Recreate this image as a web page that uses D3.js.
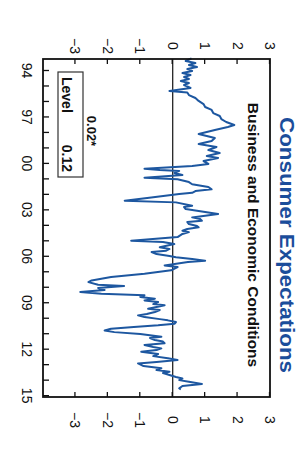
<!DOCTYPE html>
<html>
<head>
<meta charset="utf-8">
<script src="https://cdn.jsdelivr.net/npm/d3@7"></script>
<style>
  body { margin: 0; background: #fff; }
  text { font-family: "Liberation Sans", Arial, sans-serif; }
</style>
</head>
<body>
<div class="chart"></div>
<script>
// data (decimal year, index value)
var years = [
  1993.26, 1993.42, 1993.55, 1993.68, 1993.81, 1993.94, 1994.06, 1994.19, 1994.32, 1994.45,
  1994.58, 1994.71, 1994.84, 1994.97, 1995.16, 1995.36, 1995.45, 1995.62, 1995.81, 1996.0,
  1996.2, 1996.39, 1996.58, 1996.78, 1996.97, 1997.17, 1997.36, 1997.55, 1997.68, 1997.88,
  1998.13, 1998.39, 1998.59, 1998.78, 1998.97, 1999.17, 1999.36, 1999.56, 1999.68, 1999.88,
  2000.07, 2000.2, 2000.38, 2000.46, 2000.52, 2000.65, 2000.78, 2000.96, 2001.06, 2001.24,
  2001.38, 2001.56, 2001.71, 2001.82, 2001.93, 2002.01, 2002.22, 2002.44, 2002.55, 2002.77,
  2002.85, 2002.98, 2003.11, 2003.3, 2003.52, 2003.63, 2003.74, 2003.82, 2003.95, 2004.08,
  2004.16, 2004.27, 2004.38, 2004.47, 2004.59, 2004.79, 2005.03, 2005.11, 2005.24, 2005.45,
  2005.56, 2005.67, 2005.76, 2005.89, 2006.02, 2006.1, 2006.21, 2006.32, 2006.4, 2006.62,
  2006.73, 2006.94, 2007.16, 2007.37, 2007.59, 2007.7, 2007.87, 2007.95, 2008.08, 2008.21,
  2008.34, 2008.45, 2008.55, 2008.66, 2008.77, 2008.88, 2008.99, 2009.12, 2009.2, 2009.31,
  2009.42, 2009.5, 2009.63, 2009.76, 2009.85, 2009.96, 2010.09, 2010.17, 2010.28, 2010.39,
  2010.49, 2010.6, 2010.71, 2010.83, 2010.93, 2011.05, 2011.23, 2011.31, 2011.44, 2011.54,
  2011.65, 2011.76, 2011.89, 2011.98, 2012.09, 2012.2, 2012.35, 2012.48, 2012.62, 2012.73,
  2012.86, 2012.95, 2013.12, 2013.27, 2013.38, 2013.49, 2013.57, 2013.7, 2013.83, 2013.92,
  2014.03, 2014.14, 2014.28, 2014.41, 2014.56, 2014.64
];
var values = [
  0.58, 0.4, 0.7, 0.5, 0.75, 0.45, 0.6, 0.3, 0.55, 0.35,
  0.5, 0.25, 0.5, 0.35, 0.55, -0.1, 0.45, 0.5, 0.7, 0.8,
  0.95, 1.0, 1.2, 1.25, 1.45, 1.5, 1.65, 1.9, 1.7, 1.3,
  0.8, 1.3, 1.2, 0.8, 1.35, 1.1, 1.45, 1.05, 1.4, 0.95,
  1.1, 0.6, -0.87, -0.4, 0.2, 0.05, 0.3, -0.87, 0.15, 0.5,
  0.6, 1.1, 1.2, 0.7, 0.6, 0.2, -0.6, -1.48, 0.1, 0.6,
  0.35, 0.4, 0.8, 1.4, 0.6, 0.85, 0.9, 0.45, 0.5, 0.75,
  0.8, 0.45, 0.3, 0.5, 0.3, 0.15, -1.28, -0.3, 0.05, -0.4,
  -0.1, -0.2, -0.65, -0.5, -0.1, 0.1, 0.6, 1.0, 0.47, -0.25,
  0.15, -0.05, -0.87, -1.9, -2.5, -2.6, -2.3, -1.5, -2.3, -2.1,
  -2.85, -2.2, -0.87, -1.0, -0.55, -0.87, -0.45, -0.6, -0.25, -0.5,
  -0.76, -0.4, -0.55, -0.8, -1.07, -0.87, -0.4, -0.15, 0.1, 0.06,
  -0.45, -1.2, -1.9, -2.1, -1.8, -1.0, -0.35, -0.7, -0.55, -0.3,
  -0.25, -0.87, -0.6, -0.35, -0.5, -0.97, -0.45, -0.6, -0.15, 0.15,
  -0.5, -1.07, -0.9, -0.35, -0.5, -0.1, -0.3, -0.1, 0.1, 0.3,
  0.2, 0.5, 0.9, 0.3, 0.2, 0.25
];
var yearTicks = d3.range(1994, 2016);
var yearLabels = { 1994: "94", 1997: "97", 2000: "00", 2003: "03", 2006: "06", 2009: "09", 2012: "12", 2015: "15" };
var valueTicks = [-3, -2, -1, 0, 1, 2, 3];

var title = "Consumer Expectations";
var subtitle = "Business and Economic Conditions";
var legendName = "Level";
var legendValue = "0.12";
var legendNote = "0.02*";

function drawChart() {
  // the chart is laid out as a normal landscape chart, then turned a quarter clockwise
  var svg = d3
    .select(".chart")
    .append("svg")
    .attr("width", 302)
    .attr("height", 455);

  var g = svg.append("g").attr("transform", "translate(302,0) rotate(90)");

  var x = d3.scaleLinear().domain([1993.29, 2015.12]).range([59, 397]);
  var y = d3.scaleLinear().domain([-4, 3]).range([259, 32]);

  // bottom (time) axis, ticks pointing in
  var xAxis = g
    .append("g")
    .attr("transform", "translate(0,259)")
    .call(
      d3.axisBottom(x)
        .tickValues(yearTicks)
        .tickSize(-6)
        .tickPadding(11)
        .tickFormat(function (d) { return yearLabels[d] || ""; })
    );

  var leftAxis = g
    .append("g")
    .attr("transform", "translate(59,0)")
    .call(d3.axisLeft(y).tickValues(valueTicks).tickSize(-5).tickFormat(d3.format("d")));

  var rightAxis = g
    .append("g")
    .attr("transform", "translate(397,0)")
    .call(d3.axisRight(y).tickValues(valueTicks).tickSize(-5).tickFormat(d3.format("d")));

  [xAxis, leftAxis, rightAxis].forEach(function (a) {
    a.select(".domain").remove();
    a.selectAll(".tick line").attr("stroke", "#111").attr("stroke-width", 1.3);
    a.selectAll(".tick text")
      .attr("fill", "#111")
      .style("font-size", "14px")
      .style("font-family", "Liberation Sans, Arial, sans-serif");
  });
  leftAxis.selectAll(".tick text").attr("x", -13).attr("text-anchor", "middle");
  rightAxis.selectAll(".tick text").attr("x", 23).attr("text-anchor", "middle");

  // zero line
  g.append("line")
    .attr("x1", 59)
    .attr("x2", 397)
    .attr("y1", y(0))
    .attr("y2", y(0))
    .attr("stroke", "#111")
    .attr("stroke-width", 1.2);

  var line = d3
    .line()
    .x(function (d, i) { return x(years[i]); })
    .y(function (d) { return y(d); });

  g.append("path")
    .datum(values)
    .attr("d", line)
    .attr("fill", "none")
    .attr("stroke", "#1d57a0")
    .attr("stroke-width", 2)
    .attr("stroke-linejoin", "round");

  // frame
  g.append("rect")
    .attr("x", 59)
    .attr("y", 32)
    .attr("width", 338)
    .attr("height", 227)
    .attr("fill", "none")
    .attr("stroke", "#111")
    .attr("stroke-width", 1.8);

  g.append("text")
    .attr("x", 245)
    .attr("y", 22)
    .attr("text-anchor", "middle")
    .attr("fill", "#1b4d9b")
    .style("font-size", "20px")
    .style("font-weight", "bold")
    .attr("textLength", 256)
    .attr("lengthAdjust", "spacingAndGlyphs")
    .text(title);

  g.append("text")
    .attr("x", 235)
    .attr("y", 54)
    .attr("text-anchor", "middle")
    .attr("fill", "#111")
    .style("font-size", "15.5px")
    .style("font-weight", "bold")
    .text(subtitle);

  // legend box
  g.append("rect")
    .attr("x", 72)
    .attr("y", 219)
    .attr("width", 105)
    .attr("height", 25)
    .attr("fill", "#fff")
    .attr("stroke", "#333")
    .attr("stroke-width", 1.2);

  g.append("text")
    .attr("x", 77)
    .attr("y", 240)
    .attr("fill", "#111")
    .style("font-size", "14px")
    .style("font-weight", "bold")
    .text(legendName);

  g.append("text")
    .attr("x", 172)
    .attr("y", 240)
    .attr("text-anchor", "end")
    .attr("fill", "#111")
    .style("font-size", "14px")
    .style("font-weight", "bold")
    .text(legendValue);

  g.append("text")
    .attr("x", 131)
    .attr("y", 215)
    .attr("text-anchor", "middle")
    .attr("fill", "#111")
    .style("font-size", "13px")
    .style("font-weight", "bold")
    .text(legendNote);
}

drawChart();
</script>
</body>
</html>
